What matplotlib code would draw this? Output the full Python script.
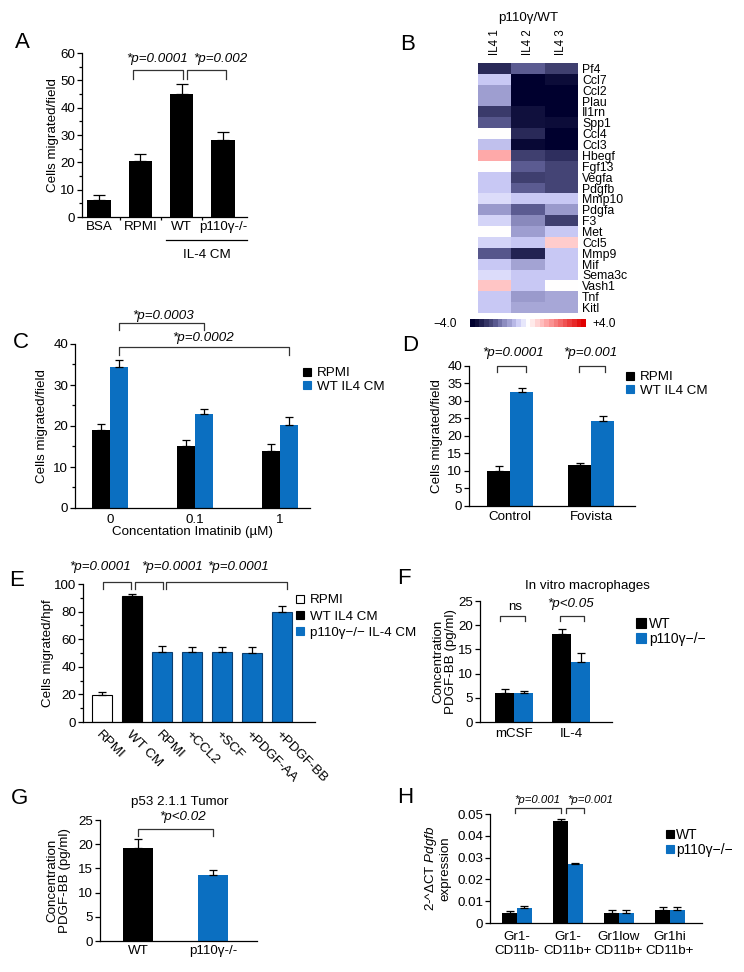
import numpy as np
import matplotlib
matplotlib.use('Agg')
import matplotlib.pyplot as plt
from matplotlib.colors import LinearSegmentedColormap
from matplotlib.lines import Line2D

plt.rcParams['font.family'] = ['Liberation Sans', 'DejaVu Sans']
plt.rcParams['font.size'] = 9.6
plt.rcParams['axes.linewidth'] = 0.9
plt.rcParams['mathtext.fontset'] = 'custom'
plt.rcParams['mathtext.rm'] = 'Liberation Sans'
plt.rcParams['mathtext.it'] = 'Liberation Sans:italic'

W, H = 744, 972
BLUE = '#0b6fc1'
FS = 9.6

# ---- data ----
a_labels = ['BSA', 'RPMI', 'WT', 'p110γ-/-']
a_vals = [6.3, 20.5, 45.0, 28.0]
a_err = [1.8, 2.5, 3.5, 3.0]

genes = ['Pf4', 'Ccl7', 'Ccl2', 'Plau', 'Il1rn', 'Spp1', 'Ccl4', 'Ccl3', 'Hbegf',
         'Fgf13', 'Vegfa', 'Pdgfb', 'Mmp10', 'Pdgfa', 'F3', 'Met', 'Ccl5', 'Mmp9',
         'Mif', 'Sema3c', 'Vash1', 'Tnf', 'Kitl']
heat_cols = ['IL4 1', 'IL4 2', 'IL4 3']
il4_1 = [-3.2, -0.8, -1.4, -1.4, -2.9, -2.4, 0.0, -0.9, 1.3, 0.0, -0.8, -0.8,
         -0.5, -1.5, -0.6, 0.0, -0.6, -2.4, -0.8, -0.5, 0.9, -0.8, -0.8]
il4_2 = [-2.3, -4.0, -4.0, -4.0, -3.6, -3.6, -3.2, -3.8, -2.8, -2.3, -2.8, -2.3,
         -0.8, -2.3, -1.7, -1.4, -0.8, -3.3, -1.3, -0.8, -0.8, -1.5, -1.2]
il4_3 = [-2.8, -3.7, -4.0, -4.0, -4.0, -3.7, -4.0, -4.0, -3.1, -2.7, -2.7, -2.7,
         -0.8, -1.5, -2.8, -0.8, 0.8, -0.8, -0.8, -0.8, 0.0, -1.2, -1.2]

c_conc = ['0', '0.1', '1']
c_rpmi = [19.0, 15.0, 14.0]
c_rpmi_err = [1.5, 1.5, 1.5]
c_wt = [34.3, 23.0, 20.3]
c_wt_err = [1.8, 1.2, 1.8]

d_groups = ['Control', 'Fovista']
d_rpmi = [10.0, 11.5]
d_rpmi_err = [1.3, 0.7]
d_wt = [32.5, 24.2]
d_wt_err = [1.3, 1.5]

e_labels = ['RPMI', 'WT CM', 'RPMI', '+CCL2', '+SCF', '+PDGF-AA', '+PDGF-BB']
e_vals = [19.5, 91.0, 51.0, 50.5, 50.5, 50.0, 80.0]
e_err = [2.0, 1.5, 4.0, 3.8, 3.8, 4.0, 4.0]
e_kind = [0, 1, 2, 2, 2, 2, 2]

f_groups = ['mCSF', 'IL-4']
f_wt = [6.0, 18.2]
f_wt_err = [0.8, 1.0]
f_ko = [6.0, 12.5]
f_ko_err = [0.4, 1.7]

g_labels = ['WT', 'p110γ-/-']
g_vals = [19.3, 13.7]
g_err = [1.7, 1.0]

h_groups = ['Gr1-\nCD11b-', 'Gr1-\nCD11b+', 'Gr1low\nCD11b+', 'Gr1hi\nCD11b+']
h_wt = [0.0048, 0.047, 0.0047, 0.006]
h_wt_err = [0.0007, 0.0006, 0.0013, 0.0012]
h_ko = [0.007, 0.027, 0.0047, 0.006]
h_ko_err = [0.0007, 0.0005, 0.0013, 0.0012]

fig = plt.figure(figsize=(W / 100, H / 100), dpi=100)


def add_ax(l, r, t, b):
    return fig.add_axes([l / W, 1 - b / H, (r - l) / W, (b - t) / H])


def fxy(x, y):
    return (x / W, 1 - y / H)


def style(ax):
    for s in ['top', 'right']:
        ax.spines[s].set_visible(False)
    ax.tick_params(direction='out', length=3.5, width=0.9, pad=1.5, labelsize=FS)
    ax.tick_params(which='minor', direction='out', length=2.5, width=0.9)


def bracket(ax, x1, x2, y, drop, text=None, tx=None, ty=None, fs=FS):
    ax.plot([x1, x1, x2, x2], [y - drop, y, y, y - drop], color='#333333',
            lw=0.9, clip_on=False)
    if text:
        ax.text(tx, ty, text, ha='center', va='center', style='italic',
                fontsize=fs, clip_on=False)


def up_err(ax, x, y, e, cap=3.2):
    ax.errorbar(x, y, yerr=[np.zeros(len(e)), e], fmt='none', ecolor='black',
                elinewidth=0.9, capsize=cap, capthick=0.9)


def sq(color, ec=None, ms=6):
    return Line2D([0], [0], marker='s', ls='none', ms=ms, mfc=color,
                  mec=ec if ec else color, mew=0.8)


def legend(ax, handles, labels, x, y, fs=FS, spacing=0.1, pad=0.45, hl=0.7):
    ax.legend(handles, labels, loc='upper left', bbox_to_anchor=fxy(x, y),
              bbox_transform=fig.transFigure, frameon=False, fontsize=fs,
              handlelength=hl, handletextpad=pad, labelspacing=spacing,
              borderpad=0, borderaxespad=0)


def letter(s, x, y):
    fig.text(*fxy(x, y), s, fontsize=16, ha='center', va='center')


# ---- A ----
ax = add_ax(82, 247, 53, 217)
style(ax)
xa = np.arange(len(a_vals))
ax.bar(xa, a_vals, width=0.56, color='black')
up_err(ax, xa, a_vals, a_err, cap=4)
ax.set_xlim(-0.41, 3.58)
ax.set_ylim(0, 60)
ax.set_yticks(np.arange(0, 61, 10))
ax.set_yticks(np.arange(5, 60, 10), minor=True)
ax.set_xticks(xa)
ax.set_xticklabels(a_labels)
ax.tick_params(axis='x', which='major', length=0, pad=3)
ax.set_xticks([0.5, 1.5, 2.5], minor=True)
ax.set_ylabel('Cells migrated/field', fontsize=FS)
ax.yaxis.set_label_coords(-0.142, 0.5)
bracket(ax, 0.82, 2.03, 53.8, 3.3, '*p=0.0001', 1.40, 57.8)
bracket(ax, 2.13, 3.07, 53.8, 3.3, '*p=0.002', 2.93, 57.8)
ax.plot([1.62, 3.58], [-8.4, -8.4], color='black', lw=0.9, clip_on=False)
ax.text(2.61, -13.9, 'IL-4 CM', ha='center', va='center', fontsize=FS)
letter('A', 22, 43)

# ---- B ----
heat = np.column_stack([il4_1, il4_2, il4_3])
nodes = [(-4, '#00002e'), (-3.6, '#12123e'), (-3.2, '#2a2a5a'), (-2.8, '#404070'),
         (-2.3, '#5c5c92'), (-1.5, '#9a9acc'), (-1.2, '#a8a8d8'), (-0.8, '#c8c8f4'),
         (-0.5, '#dcdcfa'), (0, '#ffffff'), (0.8, '#ffcccc'), (1.3, '#ffaaaa'),
         (4, '#e00000')]
cmap = LinearSegmentedColormap.from_list('hm', [((v + 4) / 8, c) for v, c in nodes])
ax = add_ax(478, 578, 63, 313)
ax.imshow(heat, cmap=cmap, vmin=-4, vmax=4, aspect='auto', interpolation='nearest')
for s in ax.spines.values():
    s.set_visible(False)
ax.yaxis.tick_right()
ax.set_yticks(np.arange(len(genes)))
ax.set_yticklabels(genes, fontsize=8.8)
ax.xaxis.tick_top()
ax.set_xticks(np.arange(3))
ax.set_xticklabels(heat_cols, rotation=90, fontsize=8.3)
ax.tick_params(length=0, pad=3)
ax.tick_params(axis='x', pad=6)
fig.text(*fxy(528, 18), 'p110γ/WT', ha='center', va='center', fontsize=FS)
cax = add_ax(470, 586, 319, 327)
cax.imshow(np.linspace(-4, 4, 25)[None, :], cmap=cmap, vmin=-4, vmax=4,
           aspect='auto', interpolation='nearest')
cax.axis('off')
fig.text(*fxy(457, 324), '−4.0', ha='right', va='center', fontsize=8.6)
fig.text(*fxy(592, 324), '+4.0', ha='left', va='center', fontsize=8.6)
letter('B', 408, 45)

# ---- C ----
ax = add_ax(75, 310, 344, 508)
style(ax)
xc = np.arange(len(c_conc))
bw = 0.212
ax.bar(xc - bw / 2, c_rpmi, width=bw, color='black')
ax.bar(xc + bw / 2, c_wt, width=bw, color=BLUE)
up_err(ax, xc - bw / 2, c_rpmi, c_rpmi_err)
up_err(ax, xc + bw / 2, c_wt, c_wt_err)
ax.set_xlim(-0.41, 2.35)
ax.set_ylim(0, 40)
ax.set_yticks(np.arange(0, 41, 10))
ax.set_yticks(np.arange(5, 40, 10), minor=True)
ax.set_xticks(xc)
ax.set_xticklabels(c_conc)
ax.tick_params(axis='x', length=0, pad=4)
ax.set_xlabel('Concentation Imatinib (µM)', fontsize=FS, labelpad=0)
ax.set_ylabel('Cells migrated/field', fontsize=FS)
ax.yaxis.set_label_coords(-0.113, 0.5)
bracket(ax, 0.106, 1.106, 45.1, 1.7, '*p=0.0003', 0.62, 46.9)
bracket(ax, 0.106, 2.106, 39.3, 2.0, '*p=0.0002', 1.09, 41.4)
legend(ax, [sq('black'), sq(BLUE)], ['RPMI', 'WT IL4 CM'], 302, 367)
letter('C', 21, 343)

# ---- D ----
ax = add_ax(469, 635, 366, 505.6)
style(ax)
xd = np.arange(len(d_groups))
bw = 0.284
ax.bar(xd - bw / 2, d_rpmi, width=bw, color='black')
ax.bar(xd + bw / 2, d_wt, width=bw, color=BLUE)
up_err(ax, xd - bw / 2, d_rpmi, d_rpmi_err)
up_err(ax, xd + bw / 2, d_wt, d_wt_err)
ax.set_xlim(-0.51, 1.54)
ax.set_ylim(0, 40)
ax.set_yticks(np.arange(0, 41, 5))
ax.set_xticks(xd)
ax.set_xticklabels(d_groups)
ax.tick_params(axis='x', length=0, pad=4)
ax.set_ylabel('Cells migrated/field', fontsize=FS)
ax.yaxis.set_label_coords(-0.154, 0.5)
bracket(ax, -0.16, 0.2, 40.0, 1.7, '*p=0.0001', 0.04, 43.8)
bracket(ax, 0.85, 1.17, 40.0, 1.7, '*p=0.001', 0.99, 43.8)
legend(ax, [sq('black'), sq(BLUE)], ['RPMI', 'WT IL4 CM'], 625, 371)
letter('D', 410, 345)

# ---- E ----
ax = add_ax(83, 315, 584, 722)
style(ax)
xe = np.arange(len(e_vals))
fc = {0: 'white', 1: 'black', 2: BLUE}
ec = {0: 'black', 1: 'black', 2: '#0a3d6e'}
ax.bar(xe, e_vals, width=0.67, color=[fc[k] for k in e_kind],
       edgecolor=[ec[k] for k in e_kind], linewidth=0.8)
up_err(ax, xe, e_vals, e_err)
ax.set_xlim(-0.63, 7.1)
ax.set_ylim(0, 100)
ax.set_yticks(np.arange(0, 101, 20))
ax.set_yticks(np.arange(10, 100, 20), minor=True)
ax.set_xticks(xe)
ax.set_xticklabels(e_labels, rotation=-45, ha='left', rotation_mode='anchor')
ax.tick_params(axis='x', length=0, pad=5)
ax.set_ylabel('Cells migrated/hpf', fontsize=FS)
ax.yaxis.set_label_coords(-0.127, 0.5)
bracket(ax, 0.03, 0.97, 101.4, 5.0)
bracket(ax, 1.1, 2.03, 101.4, 5.0)
bracket(ax, 2.13, 6.17, 101.4, 5.0)
for tx in [-0.07, 2.33, 4.55]:
    ax.text(tx, 112.3, '*p=0.0001', ha='center', va='center', style='italic',
            fontsize=FS, clip_on=False)
legend(ax, [sq('white', 'black'), sq('black'), sq(BLUE)],
       ['RPMI', 'WT IL4 CM', 'p110γ−/− IL-4 CM'], 295, 594, spacing=0.3)
letter('E', 17, 580)

# ---- F ----
ax = add_ax(480, 612, 601, 722)
style(ax)
xf = np.arange(len(f_groups))
bw = 0.333
ax.bar(xf - bw / 2, f_wt, width=bw, color='black')
ax.bar(xf + bw / 2, f_ko, width=bw, color=BLUE)
up_err(ax, xf - bw / 2, f_wt, f_wt_err)
up_err(ax, xf + bw / 2, f_ko, f_ko_err)
ax.set_xlim(-0.6, 1.72)
ax.set_ylim(0, 25)
ax.set_yticks(np.arange(0, 26, 5))
ax.set_xticks(xf)
ax.set_xticklabels(f_groups)
ax.tick_params(axis='x', length=0, pad=4)
ax.set_ylabel('Concentration\nPDGF-BB (pg/ml)', fontsize=FS, linespacing=1.05)
ax.yaxis.set_label_coords(-0.175, 0.5)
bracket(ax, -0.25, 0.19, 21.9, 1.0)
ax.text(0.02, 23.7, 'ns', ha='center', va='center', fontsize=FS)
bracket(ax, 0.8, 1.23, 21.9, 1.0, '*p<0.05', 1.0, 24.4)
ax.text(1.28, 28.1, 'In vitro macrophages', ha='center', va='center', fontsize=FS)
legend(ax, [sq('black', ms=7.5), sq(BLUE, ms=7.5)], ['WT', 'p110γ−/−'], 636, 617,
       fs=10, spacing=0.05, pad=0.25)
letter('F', 404, 578)

# ---- G ----
ax = add_ax(100, 257, 820, 941)
style(ax)
xg = np.arange(len(g_vals))
ax.bar(xg, g_vals, width=0.4, color=['black', BLUE])
up_err(ax, xg, g_vals, g_err)
ax.set_xlim(-0.51, 1.59)
ax.set_ylim(0, 25)
ax.set_yticks(np.arange(0, 26, 5))
ax.set_xticks(xg)
ax.set_xticklabels(g_labels)
ax.tick_params(axis='x', length=0, pad=3)
ax.set_ylabel('Concentration\nPDGF-BB (pg/ml)', fontsize=FS, linespacing=1.05)
ax.yaxis.set_label_coords(-0.185, 0.5)
bracket(ax, 0.0, 1.0, 23.1, 1.4, '*p<0.02', 0.59, 25.6)
ax.text(0.56, 28.7, 'p53 2.1.1 Tumor', ha='center', va='center', fontsize=FS)
letter('G', 20, 798)

# ---- H ----
ax = add_ax(490, 702, 814, 923)
style(ax)
xh = np.arange(len(h_groups))
bw = 0.29
ax.bar(xh - bw / 2, h_wt, width=bw, color='black')
ax.bar(xh + bw / 2, h_ko, width=bw, color=BLUE)
up_err(ax, xh - bw / 2, h_wt, h_wt_err)
up_err(ax, xh + bw / 2, h_ko, h_ko_err)
ax.set_xlim(-0.53, 3.63)
ax.set_ylim(0, 0.05)
ax.set_yticks(np.arange(0, 0.051, 0.01))
ax.set_yticklabels(['0', '0.01', '0.02', '0.03', '0.04', '0.05'])
ax.set_xticks(xh)
ax.set_xticklabels(h_groups, linespacing=1.2)
ax.tick_params(axis='x', length=0, pad=6)
ax.set_ylabel('2-^ΔCT $\\mathit{Pdgfb}$\nexpression', fontsize=FS, linespacing=1.05)
ax.yaxis.set_label_coords(-0.184, 0.5)
bracket(ax, -0.04, 0.86, 0.0528, 0.0023, '*p=0.001', 0.39, 0.0563, fs=8.2)
bracket(ax, 0.96, 1.31, 0.0528, 0.0023, '*p=0.001', 1.43, 0.0563, fs=8.2)
legend(ax, [sq('black'), sq(BLUE)], ['WT', 'p110γ−/−'], 667, 828,
       fs=10, spacing=0.05, pad=0.15, hl=0.5)
letter('H', 405, 797)

fig.savefig('out.png', dpi=100)
